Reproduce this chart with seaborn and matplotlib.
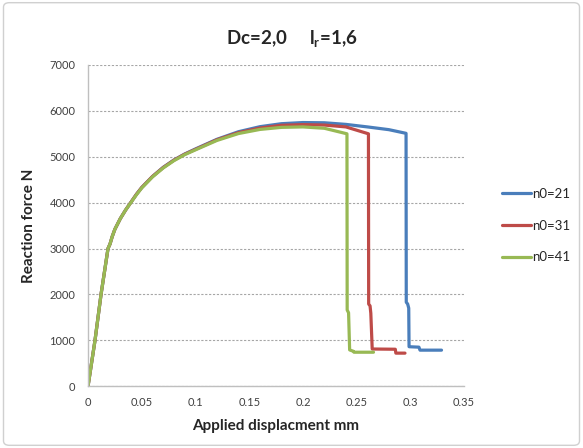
import matplotlib
matplotlib.use("Agg")
import matplotlib.pyplot as plt
import seaborn as sns
import pandas as pd
from matplotlib.patches import FancyBboxPatch

# ---- data ----
labels = ["n0=21", "n0=31", "n0=41"]
colors = ["#4a7ebb", "#be4b48", "#98b954"]

x_n21 = [0, 0.0065, 0.0121, 0.0186, 0.0205, 0.0225, 0.025, 0.03, 0.035, 0.04, 0.045, 0.05, 0.06, 0.07, 0.08, 0.09, 0.1,
         0.12, 0.14, 0.16, 0.18, 0.2, 0.22, 0.24, 0.26, 0.28, 0.296,
         0.2962, 0.2975, 0.2985, 0.2988, 0.308, 0.309, 0.329]
y_n21 = [0, 1000, 2000, 3000, 3100, 3260, 3420, 3650, 3840, 4010, 4180, 4330, 4570, 4770, 4930, 5060, 5170,
         5380, 5545, 5655, 5720, 5745, 5740, 5705, 5650, 5590, 5510,
         1830, 1790, 1700, 860, 850, 785, 785]

x_n31 = [0, 0.0065, 0.0121, 0.0186, 0.0205, 0.0225, 0.025, 0.03, 0.035, 0.04, 0.045, 0.05, 0.06, 0.07, 0.08, 0.09, 0.1,
         0.12, 0.14, 0.16, 0.18, 0.2, 0.22, 0.24, 0.261,
         0.2612, 0.2625, 0.2632, 0.2645, 0.286, 0.2865, 0.295]
y_n31 = [0, 1000, 2000, 3000, 3100, 3260, 3420, 3650, 3840, 4010, 4180, 4330, 4570, 4765, 4925, 5055, 5160,
         5370, 5525, 5625, 5685, 5700, 5690, 5650, 5500,
         1790, 1750, 1590, 810, 805, 720, 720]

x_n41 = [0, 0.0065, 0.0121, 0.0186, 0.0205, 0.0225, 0.025, 0.03, 0.035, 0.04, 0.045, 0.05, 0.06, 0.07, 0.08, 0.09, 0.1,
         0.12, 0.14, 0.16, 0.18, 0.2, 0.22, 0.241,
         0.2412, 0.2425, 0.2435, 0.247, 0.2475, 0.2657]
y_n41 = [0, 1000, 2000, 3000, 3100, 3260, 3420, 3650, 3840, 4005, 4170, 4320, 4560, 4755, 4915, 5045, 5150,
         5355, 5505, 5595, 5640, 5650, 5620, 5500,
         1660, 1600, 790, 760, 740, 740]

xticks = [0, 0.05, 0.1, 0.15, 0.2, 0.25, 0.3, 0.35]
xtick_labels = ["0", "0.05", "0.1", "0.15", "0.2", "0.25", "0.3", "0.35"]
yticks = [0, 1000, 2000, 3000, 4000, 5000, 6000, 7000]

frames = []
for lab, xs, ys in zip(labels, [x_n21, x_n31, x_n41], [y_n21, y_n31, y_n41]):
    frames.append(pd.DataFrame({"x": xs, "y": ys, "series": lab}))
df = pd.concat(frames, ignore_index=True)

sns.set_style("white")
plt.rcParams["font.family"] = ["Lato", "DejaVu Sans"]

fig = plt.figure(figsize=(5.83, 4.48), dpi=100)
fig.patch.set_facecolor("white")
border = FancyBboxPatch((0.006, 0.006), 0.988, 0.988, boxstyle="round,pad=0,rounding_size=0.01",
                        transform=fig.transFigure, facecolor="none", edgecolor="#d0d0d0", lw=1.0)
fig.patches.append(border)

ax = fig.add_axes([0.151, 0.138, 0.645, 0.717])
sns.lineplot(data=df, x="x", y="y", hue="series", palette=colors, hue_order=labels,
             sort=False, estimator=None, units="series", lw=2.3, ax=ax, legend=True)

ax.set_xlim(0, 0.35)
ax.set_ylim(0, 7000)
ax.set_xticks(xticks)
ax.set_xticklabels(xtick_labels)
ax.set_yticks(yticks)
ax.yaxis.grid(True, linestyle=(0, (2, 1.5)), color="#a6a6a6", lw=0.8)
ax.xaxis.grid(False)
ax.set_axisbelow(True)
for s in ["top", "right"]:
    ax.spines[s].set_visible(False)
for s in ["left", "bottom"]:
    ax.spines[s].set_color("#bfbfbf")
    ax.spines[s].set_linewidth(1.0)
ax.tick_params(axis="both", which="both", direction="out", length=4, width=1.0,
               color="#bfbfbf", labelsize=8, labelcolor="#404040", pad=4)
ax.tick_params(axis="y", length=5)

ax.set_xlabel("Applied displacment mm", fontsize=11, fontweight="bold", labelpad=8)
ax.set_ylabel("Reaction force N", fontsize=11, fontweight="bold", labelpad=10)
fig.text(0.5, 0.912, r"Dc=2,0     l$_\mathregular{r}$=1,6", ha="center", va="center",
         fontsize=13.5, fontweight="bold")

leg = ax.legend(loc="center left", bbox_to_anchor=(1.07, 0.5), frameon=False,
                fontsize=9.5, handlelength=2.2, handletextpad=0.1, labelspacing=1.5)
for h in leg.get_lines():
    h.set_linewidth(2.3)

fig.savefig("out.png", dpi=100)
